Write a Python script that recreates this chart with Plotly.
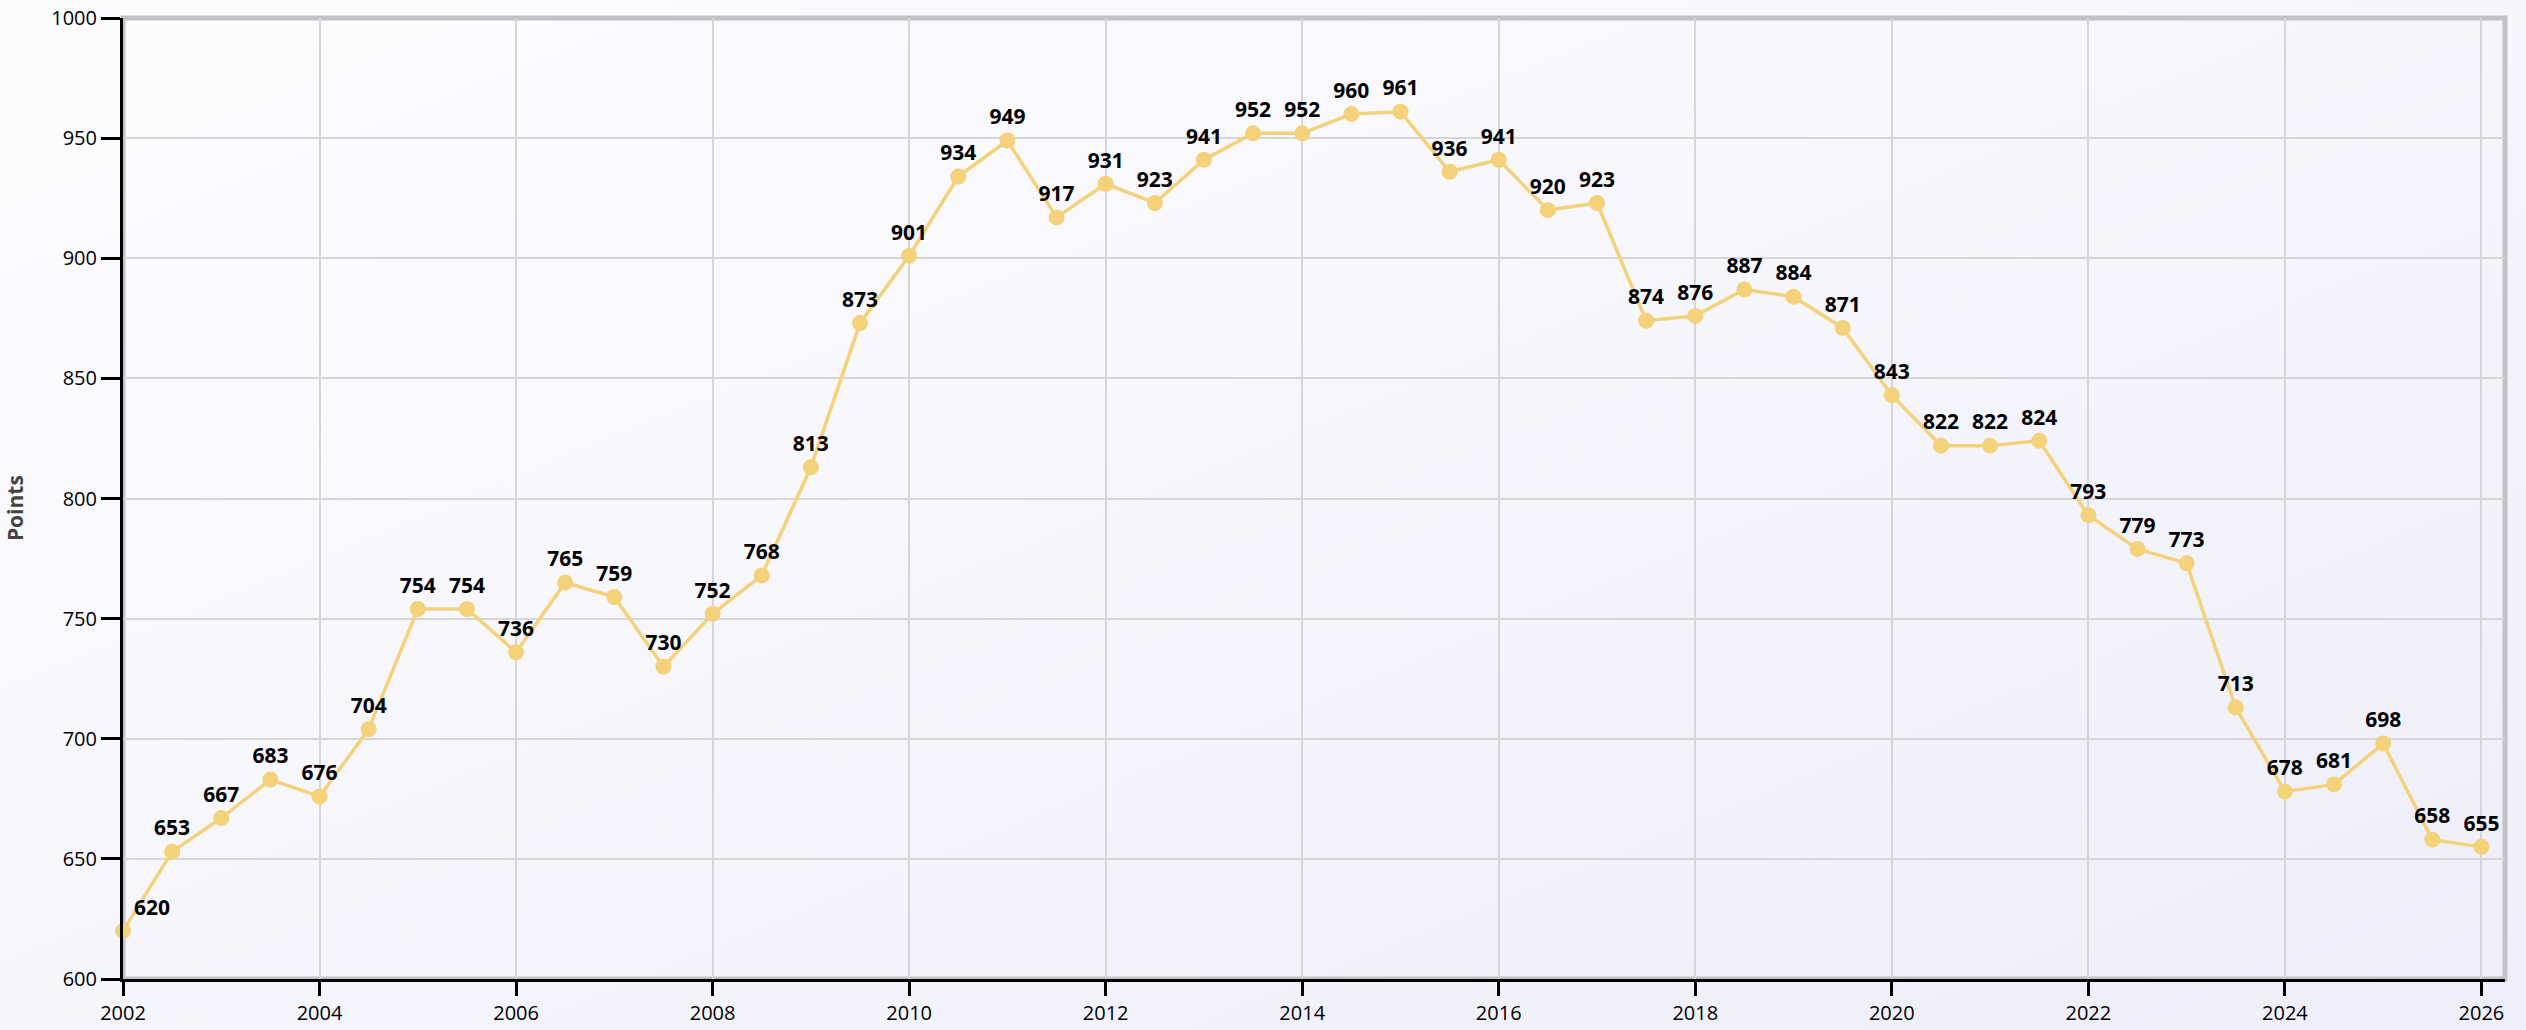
import base64
import plotly.graph_objects as go

years = [2002 + 0.5 * i for i in range(49)]
points = [620, 653, 667, 683, 676, 704, 754, 754, 736, 765, 759, 730, 752, 768,
          813, 873, 901, 934, 949, 917, 931, 923, 941, 952, 952, 960, 961, 936,
          941, 920, 923, 874, 876, 887, 884, 871, 843, 822, 822, 824, 793, 779,
          773, 713, 678, 681, 698, 658, 655]
x_ticks = list(range(2002, 2027, 2))
y_ticks = list(range(600, 1001, 50))
y_title = "Points"

positions = ["top center"] * len(points)
positions[0] = "top right"

W, H = 2526, 1030
L, R, T, B = 123, 21, 18, 51

svg = ('<svg xmlns="http://www.w3.org/2000/svg" width="2526" height="1030">'
       '<defs><linearGradient id="g" x1="0" y1="0" x2="1" y2="1">'
       '<stop offset="0" stop-color="#fdfdff"/><stop offset="1" stop-color="#eeeefa"/>'
       '</linearGradient></defs><rect width="2526" height="1030" fill="url(#g)"/></svg>')
bg_src = "data:image/svg+xml;base64," + base64.b64encode(svg.encode()).decode()

fig = go.Figure()
fig.add_trace(go.Scatter(
    x=years, y=points, mode="lines+markers+text",
    text=[str(p) for p in points], textposition=positions,
    textfont=dict(family="Open Sans", size=21, color="#000000", weight="bold"),
    line=dict(color="#f3d27a", width=3.5),
    marker=dict(color="#f3d27a", size=16),
    cliponaxis=False,
    hoverinfo="x+y",
))

fig.add_layout_image(dict(source=bg_src, xref="paper", yref="paper",
                          x=-L / (W - L - R), y=1 + T / (H - T - B),
                          sizex=W / (W - L - R), sizey=H / (H - T - B),
                          xanchor="left", yanchor="top", sizing="stretch", layer="below"))

fig.add_shape(type="rect", xref="paper", yref="paper", x0=0, x1=1, y0=0, y1=1,
              line=dict(color="#c2c2c6", width=5), layer="below")

fig.add_annotation(
    text="<b>" + y_title + "</b>", textangle=-90, showarrow=False,
    xref="paper", yref="paper", x=0, y=0.49, xanchor="center", yanchor="middle",
    xshift=-(L - 15), font=dict(family="Open Sans", size=21, color="#444"),
)

fig.update_layout(
    width=W, height=H,
    margin=dict(l=L, r=R, t=T, b=B, autoexpand=False),
    paper_bgcolor="#f4f4fb",
    plot_bgcolor="rgba(0,0,0,0)",
    showlegend=False,
    font=dict(family="Open Sans", size=20, color="#000"),
    xaxis=dict(range=[2002, 2026.24], tickvals=x_ticks, ticktext=[str(t) for t in x_ticks],
               showgrid=True, gridcolor="#d6d6d8", gridwidth=2,
               showline=True, linecolor="#000", linewidth=3,
               ticks="outside", ticklen=14, tickwidth=3, tickcolor="#000",
               zeroline=False, tickfont=dict(size=20), automargin=False),
    yaxis=dict(range=[600, 1000], tickvals=y_ticks,
               showgrid=True, gridcolor="#d6d6d8", gridwidth=2,
               showline=True, linecolor="#000", linewidth=3,
               ticks="outside", ticklen=19, tickwidth=3, tickcolor="#000",
               zeroline=False, tickfont=dict(size=20), automargin=False),
)

fig.write_html("out.html", config={"displayModeBar": False},
               post_script="document.body.style.margin='0';document.body.style.background='#f4f4fb';")
